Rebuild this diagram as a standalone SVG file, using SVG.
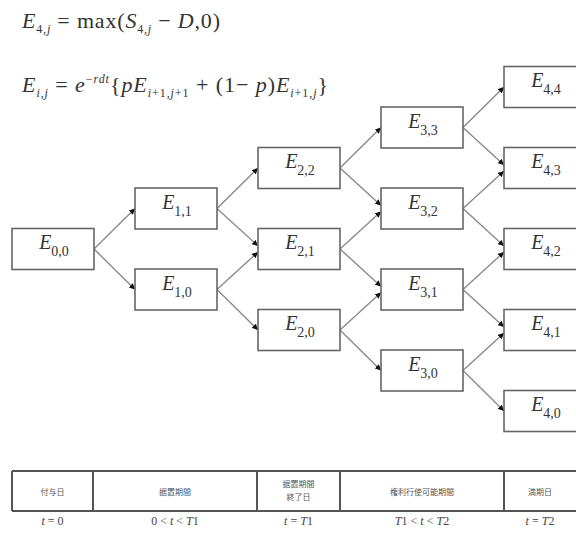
<svg xmlns="http://www.w3.org/2000/svg" width="576" height="534" viewBox="0 0 576 534">
<defs>
<style>
.box{fill:#fff;stroke:#666;stroke-width:1.6}
.lbl{font-family:"Liberation Serif","Times New Roman",serif;font-size:20px;fill:#333;text-anchor:middle}
.it{font-style:italic}
.sub{font-size:14px;font-style:normal}
.eq{font-family:"Liberation Serif","Times New Roman",serif;font-size:22px;fill:#333}
.eqs{font-size:12px}
.edge{stroke:#8a8a8a;stroke-width:1.4;fill:none;marker-end:url(#ah)}
.tb{stroke:#555;stroke-width:2;fill:none}
.cell{font-family:"Noto Sans CJK JP","Noto Sans CJK SC",sans-serif;font-size:8px;fill:#555;text-anchor:middle}
.tl{font-family:"Liberation Serif","Times New Roman",serif;font-size:12px;fill:#444;text-anchor:middle}
</style>
<marker id="ah" markerWidth="6" markerHeight="6" refX="6" refY="3" orient="auto" markerUnits="userSpaceOnUse">
<path d="M0,0 L6,3 L0,6 z" fill="#111"/>
</marker>
</defs>
<rect width="576" height="534" fill="#fff"/>

<g id="formulas">
<text class="eq" x="22" y="28" textLength="198" lengthAdjust="spacing"><tspan class="it">E</tspan><tspan class="eqs" dy="5">4,</tspan><tspan class="eqs it">j</tspan><tspan dy="-5"> = max(</tspan><tspan class="it">S</tspan><tspan class="eqs" dy="5">4,</tspan><tspan class="eqs it">j</tspan><tspan dy="-5"> − </tspan><tspan class="it">D</tspan><tspan>,0)</tspan></text>
<text class="eq" x="22" y="92" textLength="306" lengthAdjust="spacing"><tspan class="it">E</tspan><tspan class="eqs it" dy="5">i</tspan><tspan class="eqs">,</tspan><tspan class="eqs it">j</tspan><tspan dy="-5"> = </tspan><tspan class="it">e</tspan><tspan class="eqs" dy="-9">−</tspan><tspan class="eqs it">rdt</tspan><tspan dy="9">{</tspan><tspan class="it">pE</tspan><tspan class="eqs it" dy="5">i</tspan><tspan class="eqs">+1,</tspan><tspan class="eqs it">j</tspan><tspan class="eqs">+1</tspan><tspan dy="-5"> + (1− </tspan><tspan class="it">p</tspan><tspan>)</tspan><tspan class="it">E</tspan><tspan class="eqs it" dy="5">i</tspan><tspan class="eqs">+1,</tspan><tspan class="eqs it">j</tspan><tspan dy="-5">}</tspan></text>
</g>

<g id="connectors">
<line class="edge" x1="94" y1="249" x2="135" y2="208.5"/>
<line class="edge" x1="94" y1="249" x2="135" y2="289.5"/>
<line class="edge" x1="217" y1="208.5" x2="258" y2="168"/>
<line class="edge" x1="217" y1="208.5" x2="258" y2="246"/>
<line class="edge" x1="217" y1="289.5" x2="258" y2="252"/>
<line class="edge" x1="217" y1="289.5" x2="258" y2="330"/>
<line class="edge" x1="340" y1="168" x2="381" y2="127.5"/>
<line class="edge" x1="340" y1="168" x2="381" y2="205.5"/>
<line class="edge" x1="340" y1="249" x2="381" y2="211.5"/>
<line class="edge" x1="340" y1="249" x2="381" y2="286.5"/>
<line class="edge" x1="340" y1="330" x2="381" y2="292.5"/>
<line class="edge" x1="340" y1="330" x2="381" y2="370.5"/>
<line class="edge" x1="463" y1="127.5" x2="504" y2="87"/>
<line class="edge" x1="463" y1="127.5" x2="504" y2="165"/>
<line class="edge" x1="463" y1="208.5" x2="504" y2="171"/>
<line class="edge" x1="463" y1="208.5" x2="504" y2="246"/>
<line class="edge" x1="463" y1="289.5" x2="504" y2="252"/>
<line class="edge" x1="463" y1="289.5" x2="504" y2="327"/>
<line class="edge" x1="463" y1="370.5" x2="504" y2="333"/>
<line class="edge" x1="463" y1="370.5" x2="504" y2="411"/>
</g>

<g id="n00"><rect class="box" x="12" y="228.5" width="82" height="41"/><text class="lbl" x="54" y="249"><tspan class="it">E</tspan><tspan class="sub" dy="7">0,0</tspan></text></g>
<g id="n11"><rect class="box" x="135" y="188" width="82" height="41"/><text class="lbl" x="177" y="208.5"><tspan class="it">E</tspan><tspan class="sub" dy="7">1,1</tspan></text></g>
<g id="n10"><rect class="box" x="135" y="269" width="82" height="41"/><text class="lbl" x="177" y="289.5"><tspan class="it">E</tspan><tspan class="sub" dy="7">1,0</tspan></text></g>
<g id="n22"><rect class="box" x="258" y="147.5" width="82" height="41"/><text class="lbl" x="300" y="168"><tspan class="it">E</tspan><tspan class="sub" dy="7">2,2</tspan></text></g>
<g id="n21"><rect class="box" x="258" y="228.5" width="82" height="41"/><text class="lbl" x="300" y="249"><tspan class="it">E</tspan><tspan class="sub" dy="7">2,1</tspan></text></g>
<g id="n20"><rect class="box" x="258" y="309.5" width="82" height="41"/><text class="lbl" x="300" y="330"><tspan class="it">E</tspan><tspan class="sub" dy="7">2,0</tspan></text></g>
<g id="n33"><rect class="box" x="381" y="107" width="82" height="41"/><text class="lbl" x="423" y="127.5"><tspan class="it">E</tspan><tspan class="sub" dy="7">3,3</tspan></text></g>
<g id="n32"><rect class="box" x="381" y="188" width="82" height="41"/><text class="lbl" x="423" y="208.5"><tspan class="it">E</tspan><tspan class="sub" dy="7">3,2</tspan></text></g>
<g id="n31"><rect class="box" x="381" y="269" width="82" height="41"/><text class="lbl" x="423" y="289.5"><tspan class="it">E</tspan><tspan class="sub" dy="7">3,1</tspan></text></g>
<g id="n30"><rect class="box" x="381" y="350" width="82" height="41"/><text class="lbl" x="423" y="370.5"><tspan class="it">E</tspan><tspan class="sub" dy="7">3,0</tspan></text></g>
<g id="n44"><rect class="box" x="504" y="66.5" width="82" height="41"/><text class="lbl" x="546" y="87"><tspan class="it">E</tspan><tspan class="sub" dy="7">4,4</tspan></text></g>
<g id="n43"><rect class="box" x="504" y="147.5" width="82" height="41"/><text class="lbl" x="546" y="168"><tspan class="it">E</tspan><tspan class="sub" dy="7">4,3</tspan></text></g>
<g id="n42"><rect class="box" x="504" y="228.5" width="82" height="41"/><text class="lbl" x="546" y="249"><tspan class="it">E</tspan><tspan class="sub" dy="7">4,2</tspan></text></g>
<g id="n41"><rect class="box" x="504" y="309.5" width="82" height="41"/><text class="lbl" x="546" y="330"><tspan class="it">E</tspan><tspan class="sub" dy="7">4,1</tspan></text></g>
<g id="n40"><rect class="box" x="504" y="390.5" width="82" height="41"/><text class="lbl" x="546" y="411"><tspan class="it">E</tspan><tspan class="sub" dy="7">4,0</tspan></text></g>

<g id="timeline">
<path class="tb" d="M12,471 H576 M12,511 H576 M12,471 V511 M93,471 V511 M257,471 V511 M340,471 V511 M504,471 V511"/>
<text class="cell" x="52.5" y="495">付与日</text>
<text class="cell" x="175" y="495">据置期間</text>
<text class="cell" x="298.5" y="487">据置期間</text>
<text class="cell" x="298.5" y="500">終了日</text>
<text class="cell" x="422" y="495">権利行使可能期間</text>
<text class="cell" x="540" y="495">満期日</text>
<text class="tl" x="52.5" y="525"><tspan class="it">t</tspan> = 0</text>
<text class="tl" x="175" y="525">0 &lt; <tspan class="it">t</tspan> &lt; <tspan class="it">T</tspan>1</text>
<text class="tl" x="298.5" y="525"><tspan class="it">t</tspan> = <tspan class="it">T</tspan>1</text>
<text class="tl" x="422" y="525"><tspan class="it">T</tspan>1 &lt; <tspan class="it">t</tspan> &lt; <tspan class="it">T</tspan>2</text>
<text class="tl" x="540" y="525"><tspan class="it">t</tspan> = <tspan class="it">T</tspan>2</text>
</g>
</svg>
